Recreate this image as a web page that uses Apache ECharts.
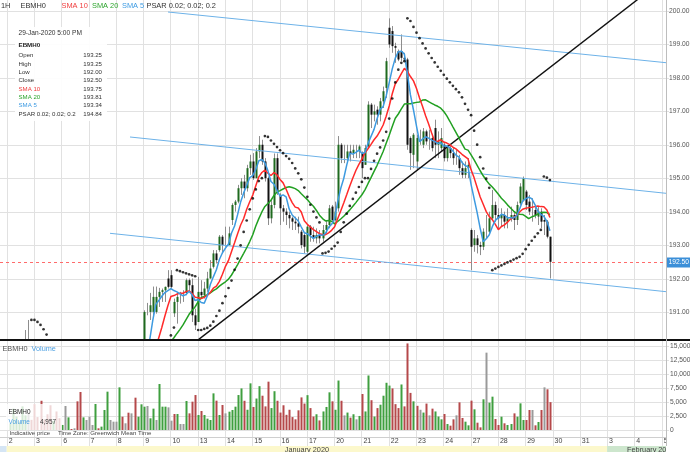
<!DOCTYPE html>
<html><head><meta charset="utf-8">
<script src="https://cdn.jsdelivr.net/npm/echarts@6/dist/echarts.min.js"></script>
<style>html,body{margin:0;padding:0;background:#fff;}#c{width:690px;height:452px;}</style>
</head><body><div id="c"></div>
<script>
// ---------------- DATA ----------------
const dayLabels = ['2','3','6','7','8','9','10','13','14','15','16','17','20','21','22','23','24','27','28','29','30','31','3','4','5'];
const monthNames = ['January 2020', 'February 2020'];
const monthStartDay = [0, 22];
const priceTicks = [191, 192, 193, 194, 195, 196, 197, 198, 199, 200];
const volTicks = [0, 2500, 5000, 7500, 10000, 12500, 15000];
const barsPerDay = 9;

// hourly candles [open, high, low, close], Jan 2 .. Jan 29 (9 bars per day)
const ohlc = [
// Jan 2
[189.80,189.95,189.70,189.90],[189.90,190.05,189.80,189.95],[189.95,190.05,189.85,190.00],[190.00,190.10,189.90,190.05],[190.05,190.15,189.95,190.10],[190.10,190.46,190.00,190.15],[190.15,190.76,190.10,190.15],[190.15,190.15,189.70,189.80],[189.80,189.90,189.30,189.50],
// Jan 3
[189.50,189.60,189.20,189.40],[189.40,189.50,189.00,189.20],[189.20,189.30,188.90,189.00],[189.00,189.20,188.80,188.90],[188.90,189.00,188.60,188.70],[188.70,188.90,188.60,188.80],[188.80,188.85,188.50,188.60],[188.60,188.70,188.40,188.50],[188.50,188.70,188.45,188.60],
// Jan 6
[188.60,188.70,188.40,188.60],[188.60,188.90,188.50,188.80],[188.80,188.85,188.60,188.70],[188.70,188.80,188.60,188.70],[188.70,188.75,188.40,188.50],[188.50,188.55,188.20,188.30],[188.30,188.50,188.25,188.40],[188.40,188.50,188.30,188.40],[188.40,188.50,188.30,188.40],
// Jan 7
[188.40,188.50,188.30,188.40],[188.40,188.70,188.35,188.60],[188.60,188.65,188.40,188.50],[188.50,188.70,188.45,188.60],[188.60,188.80,188.55,188.75],[188.75,189.00,188.70,188.90],[188.90,189.00,188.80,188.90],[188.90,189.00,188.80,188.90],[188.90,189.00,188.80,188.90],
// Jan 8
[188.90,189.10,188.85,189.00],[189.00,189.05,188.70,188.80],[188.80,188.90,188.70,188.80],[188.80,188.85,188.50,188.60],[188.60,188.70,188.50,188.60],[188.60,188.65,188.30,188.40],[188.40,188.70,188.35,188.60],[188.60,189.10,188.55,189.00],[189.20,191.05,189.10,191.00],
// Jan 9
[191.00,191.27,190.90,191.00],[191.00,191.57,190.76,191.20],[191.00,191.76,190.86,191.45],[191.00,191.76,190.95,191.45],[191.45,191.72,191.15,191.60],[191.60,191.70,191.30,191.65],[191.65,191.76,191.30,191.75],[192.00,192.25,191.70,191.75],[192.10,192.25,191.70,191.75],
// Jan 10
[190.96,191.40,190.85,191.30],[191.30,191.57,190.65,191.45],[191.45,191.60,191.25,191.45],[191.45,191.65,191.30,191.45],[191.57,192.00,191.50,191.95],[191.95,192.00,191.60,191.80],[191.80,192.00,190.70,190.90],[190.90,191.10,190.46,190.60],[190.70,192.05,190.70,191.60],
// Jan 13
[191.60,191.95,191.40,191.50],[191.50,191.90,191.40,191.70],[191.70,192.20,191.60,192.00],[192.00,192.55,192.00,192.30],[192.35,192.85,192.30,192.75],[192.75,192.85,192.45,192.55],[192.85,193.30,192.80,193.25],[193.25,193.30,192.75,193.00],[193.00,193.55,192.95,193.00],
// Jan 14
[193.00,193.55,193.00,193.35],[193.75,194.25,193.60,194.20],[194.20,194.35,194.00,194.30],[194.30,194.80,194.25,194.70],[194.70,195.00,194.50,194.90],[194.90,195.10,194.40,194.70],[194.70,195.40,194.60,195.30],[195.30,195.70,195.10,195.50],[195.50,195.75,194.95,195.00],
// Jan 15
[195.00,195.90,195.00,195.80],[195.80,196.26,195.60,196.00],[196.00,196.15,195.40,195.50],[195.50,195.60,194.90,195.00],[195.00,195.05,193.60,193.80],[193.80,194.35,193.65,194.20],[194.20,195.74,194.10,195.60],[195.60,195.74,194.50,194.60],[194.50,194.55,193.60,194.10],
// Jan 16
[194.10,194.20,193.70,194.00],[194.00,194.10,193.60,193.90],[193.90,194.00,193.50,193.80],[193.80,193.85,193.45,193.70],[193.70,193.85,193.45,193.65],[193.65,193.85,193.35,193.55],[193.40,193.45,192.90,193.00],[193.30,193.35,192.75,192.95],[192.80,193.60,192.75,193.55],
// Jan 17
[193.55,193.60,193.10,193.30],[193.30,193.55,193.10,193.20],[193.20,193.50,193.05,193.30],[193.30,193.45,193.05,193.20],[193.20,193.60,193.10,193.45],[193.45,193.75,193.35,193.60],[193.60,194.20,193.50,194.10],[194.15,194.20,193.70,193.75],[193.75,194.30,193.70,194.00],
// Jan 20
[194.10,196.26,194.00,196.00],[196.00,196.05,195.45,195.60],[195.60,196.00,195.45,195.60],[195.60,196.00,195.50,195.80],[195.80,196.00,195.50,195.75],[195.75,196.00,195.60,195.85],[195.85,196.00,195.60,195.85],[195.80,196.00,195.60,195.95],[195.75,195.80,195.00,195.30],
// Jan 21
[195.40,196.00,195.40,195.90],[195.95,197.30,195.90,197.20],[197.20,197.25,196.50,196.90],[196.90,197.20,196.70,197.00],[197.05,197.15,196.60,196.90],[196.90,197.40,196.70,197.30],[197.30,197.74,197.10,197.60],[197.70,198.60,197.40,198.50],[199.50,199.78,198.90,199.00],
// Jan 22
[199.40,199.55,198.75,198.95],[198.95,199.05,198.45,198.90],[198.80,198.85,198.50,198.55],[198.80,199.30,198.50,198.60],[198.60,198.75,198.50,198.55],[198.55,198.60,195.85,196.00],[196.20,196.25,195.25,195.75],[195.70,196.35,195.30,196.30],[195.50,196.30,195.25,196.20],
// Jan 23
[196.20,196.45,196.00,196.20],[196.00,196.50,195.90,196.40],[196.40,196.45,196.00,196.10],[196.10,196.45,195.85,196.10],[196.20,196.30,195.80,195.90],[196.50,196.75,195.60,196.00],[196.00,196.40,195.60,196.10],[195.90,196.50,195.80,196.20],[196.00,196.05,195.50,195.60],
// Jan 24
[195.60,196.00,195.50,195.90],[195.90,196.00,195.60,195.75],[195.75,195.90,195.40,195.60],[195.60,195.85,195.40,195.60],[195.60,195.70,195.10,195.30],[195.30,195.50,195.00,195.10],[195.10,195.50,195.00,195.30],[195.30,195.60,195.00,195.40],[193.45,193.50,192.25,192.95],
// Jan 27
[193.00,193.45,192.80,193.20],[193.20,193.30,192.75,193.00],[193.00,193.10,192.70,192.95],[192.95,193.50,192.85,193.40],[193.40,193.90,193.20,193.40],[193.40,194.00,193.30,193.80],[193.80,194.65,193.75,194.20],[194.20,194.30,193.70,193.90],[193.90,194.10,193.50,193.80],
// Jan 28
[193.80,194.10,193.55,193.90],[193.90,194.00,193.50,193.70],[193.70,194.10,193.50,193.80],[193.80,194.15,193.70,193.90],[193.90,194.00,193.45,193.75],[193.75,194.30,193.60,194.20],[194.25,194.85,194.20,194.75],[194.35,195.05,194.30,195.00],[194.60,194.65,194.05,194.20],
// Jan 29
[194.30,194.50,193.90,194.00],[194.00,194.40,193.70,194.00],[194.05,194.20,193.80,193.90],[193.85,194.15,193.60,194.00],[194.00,194.10,193.50,193.70],[193.75,193.90,193.30,193.70],[193.70,193.75,193.20,193.25],[193.25,193.25,192.00,192.50]
];

const volumes = [
1200,3800,2400,1500,4200,2600,3100,1800,4600,
2300,5200,1900,2800,4400,1600,3300,2100,900,
4270,2250,180,300,5100,6760,2250,1780,2370,
890,4625,300,600,3560,6820,1780,1480,1480,
7590,2370,1190,3080,2960,5750,2370,4570,4150,
4270,2080,3800,1780,8180,4150,4150,4030,1660,
2850,2850,1070,1070,5160,2960,5040,6220,2670,
3380,2670,2020,1780,6520,5220,2670,4450,2960,
3260,3560,4150,6220,7400,5200,3600,8300,4100,
5600,7800,6100,4200,8600,3900,6900,5200,3100,
4400,2700,3600,2300,1900,3500,5800,4700,6200,
3900,2400,2800,1700,3300,4100,6700,5100,3600,
8800,5200,2600,3100,2200,2800,1900,2500,6400,
3300,9700,5300,2400,3900,4500,6100,8400,7900,
7400,4600,3900,8100,4200,15400,6600,5100,4300,
3600,3100,4700,2600,3800,3300,2400,1900,2850,
1070,770,1900,2610,4920,2135,1480,830,5220,
3680,1300,470,5460,13760,4860,5930,1960,890,
2370,1190,890,1070,2960,2370,4740,1780,1780,
3560,3560,830,1420,3560,7590,7240,4957
];

// drawn trend lines: [dayPosition, price]
const channelTop = [[5.911, 199.970], [24.159, 198.454]];
const channelMid = [[4.518, 196.232], [24.159, 194.548]];
const channelLow = [[3.785, 193.352], [24.159, 191.606]];
const trendUp    = [[6.980, 190.142], [23.200, 200.395]];

const tooltipTitle = '29-Jan-2020 5:00 PM';
const tooltipRows = [['Open','193.25'],['High','193.25'],['Low','192.00'],['Close','192.50'],['SMA 10','193.75'],['SMA 20','193.81'],['SMA 5','193.34'],['PSAR 0.02; 0.02; 0.2','194.84']];
const legendVolume = '4,957';

// ---------------- LAYOUT / STYLE ----------------
const FONT = '"Liberation Sans", Arial, sans-serif';
const f = s => s + 'px ' + FONT;
const PLOT_W = 666;
const X_MIN = -0.2455, X_MAX = 24.159;
const P_MIN = 190.161, P_MAX = 200.329;
const V_MIN = -1245, V_MAX = 15833;
const GRID_C = '#e1e1e1';
const C_SMA10 = '#ff2a2a', C_SMA20 = '#22a022', C_SMA5 = '#3d9ae0';
const C_UP = '#3f9f3f', C_DN = '#b5484a', C_FLAT = '#9a9a9a';

const barX = i => Math.floor(i / barsPerDay) + ((i % barsPerDay) + 1.15) / barsPerDay;
const closes = ohlc.map(r => r[3]);
const highs = ohlc.map(r => r[1]);
const lows = ohlc.map(r => r[2]);

function sma(n) {
  const out = [];
  for (let i = n - 1; i < closes.length; i++) {
    let s = 0; for (let k = i - n + 1; k <= i; k++) s += closes[k];
    out.push([barX(i), s / n]);
  }
  return out;
}
function psar(start, inc, max) {
  const out = [];
  let up = closes[1] >= closes[0];
  let sar = up ? lows[0] : highs[0], ep = up ? highs[0] : lows[0], af = start;
  for (let i = 1; i < highs.length; i++) {
    let s = sar + af * (ep - sar);
    const j = i > 1 ? i - 2 : i - 1;
    if (up) {
      s = Math.min(s, lows[i - 1], lows[j]);
      if (lows[i] < s) { up = false; s = ep; ep = lows[i]; af = start; }
      else if (highs[i] > ep) { ep = highs[i]; af = Math.min(af + inc, max); }
    } else {
      s = Math.max(s, highs[i - 1], highs[j]);
      if (highs[i] > s) { up = true; s = ep; ep = highs[i]; af = start; }
      else if (lows[i] < ep) { ep = lows[i]; af = Math.min(af + inc, max); }
    }
    sar = s; out.push([barX(i), s]);
  }
  return out;
}

const candleData = ohlc.map((r, i) => [barX(i), r[0], r[1], r[2], r[3]]);
const volData = volumes.map((v, i) => {
  const prev = i > 0 ? closes[i - 1] : ohlc[i][0];
  const dir = closes[i] > prev ? 1 : (closes[i] < prev ? -1 : 0);
  return [barX(i), v, dir];
});
const lastClose = closes[closes.length - 1];

const chart = echarts.init(document.getElementById('c'), null, { renderer: 'canvas' });

const axisX = gi => ({ type: 'value', gridIndex: gi, min: X_MIN, max: X_MAX, show: false });

const monthBands = [[X_MIN, monthStartDay[0], -1]];
monthStartDay.forEach((s, k) => monthBands.push([s, k + 1 < monthStartDay.length ? monthStartDay[k + 1] : X_MAX, k]));
const bandColors = ['#d5e5f4', '#fcf8cc', '#cde6cd'];
const rowColors = { 'SMA 10': '#f03c3c', 'SMA 20': '#2ea52e', 'SMA 5': '#3e9be2' };

const option = {
  animation: false,
  grid: [
    { left: 0, top: 0, width: PLOT_W, height: 340 },
    { left: 0, top: 341, width: PLOT_W, height: 96 },
    { left: 0, top: 437, width: PLOT_W, height: 15 }
  ],
  xAxis: [axisX(0), axisX(1), axisX(2)],
  yAxis: [
    { type: 'value', gridIndex: 0, min: P_MIN, max: P_MAX, show: false },
    { type: 'value', gridIndex: 1, min: V_MIN, max: V_MAX, show: false },
    { type: 'value', gridIndex: 2, min: 0, max: 1, show: false }
  ],
  series: [
    // vertical day grid lines
    { type: 'custom', xAxisIndex: 0, yAxisIndex: 0, silent: true, z: 1, clip: false,
      data: dayLabels.map((l, d) => [d, P_MAX]), encode: { x: 0, y: 1 },
      renderItem: (p, api) => {
        const x = Math.round(api.coord([api.value(0), P_MAX])[0]) + 0.5;
        return { type: 'line', shape: { x1: x, y1: 0, x2: x, y2: 446 }, style: { stroke: GRID_C, lineWidth: 1 } };
      } },
    // price grid lines + labels
    { type: 'custom', xAxisIndex: 0, yAxisIndex: 0, silent: true, z: 1, clip: false,
      data: priceTicks.map(t => [X_MIN, t]), encode: { x: 0, y: 1 },
      renderItem: (p, api) => {
        const t = api.value(1);
        const a = api.coord([X_MIN, t]), b = api.coord([X_MAX, t]);
        const y = Math.round(a[1]) + 0.5;
        return { type: 'group', children: [
          { type: 'line', shape: { x1: a[0], y1: y, x2: b[0] + 3, y2: y }, style: { stroke: GRID_C, lineWidth: 1 } },
          { type: 'text', x: b[0] + 3, y: y, style: { text: t.toFixed(2), fill: '#555', font: f(6.7), verticalAlign: 'middle' } }
        ] };
      } },
    // volume grid lines + labels
    { type: 'custom', xAxisIndex: 1, yAxisIndex: 1, silent: true, z: 1, clip: false,
      data: volTicks.map(t => [X_MIN, t]), encode: { x: 0, y: 1 },
      renderItem: (p, api) => {
        const t = api.value(1);
        const a = api.coord([X_MIN, t]), b = api.coord([X_MAX, t]);
        const y = Math.round(a[1]) + 0.5;
        return { type: 'group', children: [
          { type: 'line', shape: { x1: a[0], y1: y, x2: b[0] + 3, y2: y }, style: { stroke: GRID_C, lineWidth: 1 } },
          { type: 'text', x: b[0] + 4, y: y, style: { text: t.toLocaleString('en-US'), fill: '#555', font: f(6.7), verticalAlign: 'middle' } }
        ] };
      } },
    // month bands
    { type: 'custom', xAxisIndex: 2, yAxisIndex: 2, silent: true, z: 1, clip: true,
      data: monthBands, encode: { x: [0, 1] },
      renderItem: (p, api) => {
        const a = api.coord([api.value(0), 0]), b = api.coord([api.value(1), 0]);
        const k = api.value(2);
        const children = [{ type: 'rect', shape: { x: a[0], y: 446, width: b[0] - a[0], height: 8 }, style: { fill: bandColors[k + 1] } }];
        if (k >= 0) {
          const x = k === 0 ? (a[0] + b[0]) / 2 : a[0] + 20;
          children.push({ type: 'text', x: x, y: 449.5, style: { text: monthNames[k], fill: '#444', font: f(7.3), align: k === 0 ? 'center' : 'left', verticalAlign: 'middle' } });
        }
        return { type: 'group', children };
      } },
    // day labels
    { type: 'custom', xAxisIndex: 2, yAxisIndex: 2, silent: true, z: 2, clip: true,
      data: dayLabels.map((l, d) => [d, 1]), encode: { x: 0, y: 1 },
      renderItem: (p, api) => {
        const c = api.coord([api.value(0), 1]);
        return { type: 'text', x: c[0] + 2, y: c[1] + 4.5, style: { text: dayLabels[p.dataIndex], fill: '#444', font: f(7), verticalAlign: 'middle' } };
      } },
    // last price dashed line + label
    { type: 'custom', xAxisIndex: 0, yAxisIndex: 0, silent: true, z: 3, clip: false,
      data: [[X_MIN, lastClose]], encode: { x: 0, y: 1 },
      renderItem: (p, api) => {
        const v = api.value(1);
        const a = api.coord([X_MIN, v]), b = api.coord([X_MAX, v]);
        const y = Math.round(a[1]) + 0.5;
        return { type: 'group', children: [
          { type: 'line', shape: { x1: a[0], y1: y, x2: b[0], y2: y }, style: { stroke: '#ff6b6b', lineWidth: 1, lineDash: [3, 3] } },
          { type: 'rect', shape: { x: b[0] + 1, y: y - 5, width: 23, height: 10 }, style: { fill: '#3b8fd8' } },
          { type: 'text', x: b[0] + 2.5, y: y, style: { text: v.toFixed(2), fill: '#fff', font: f(6.7), verticalAlign: 'middle' } }
        ] };
      } },
    // candles
    { type: 'custom', name: 'EBMH0', xAxisIndex: 0, yAxisIndex: 0, z: 4, clip: true,
      data: candleData, encode: { x: 0, y: [1, 2, 3, 4] },
      renderItem: (p, api) => {
        const x = api.value(0), o = api.value(1), h = api.value(2), l = api.value(3), c = api.value(4);
        const pO = api.coord([x, o]), pC = api.coord([x, c]), pH = api.coord([x, h]), pL = api.coord([x, l]);
        const px = Math.round(pO[0]);
        const children = [{ type: 'line', shape: { x1: px + 0.5, y1: pH[1], x2: px + 0.5, y2: pL[1] }, style: { stroke: '#8d8d8d', lineWidth: 1 } }];
        const top = Math.min(pO[1], pC[1]), bot = Math.max(pO[1], pC[1]);
        if (bot - top > 0.6) children.push({ type: 'rect', shape: { x: px - 0.5, y: top, width: 2, height: bot - top }, style: { fill: c > o ? '#1f6a1f' : '#111' } });
        return { type: 'group', children };
      } },
    // trend lines
    ...[channelTop, channelMid, channelLow].map(d => ({ type: 'line', xAxisIndex: 0, yAxisIndex: 0, data: d, showSymbol: false, silent: true, z: 5,
      lineStyle: { color: '#6db2e8', width: 1 } })),
    { type: 'line', xAxisIndex: 0, yAxisIndex: 0, data: trendUp, showSymbol: false, silent: true, z: 5, lineStyle: { color: '#111', width: 1.4 } },
    // SMAs
    { type: 'line', name: 'SMA 20', xAxisIndex: 0, yAxisIndex: 0, data: sma(20), showSymbol: false, z: 6, lineStyle: { color: C_SMA20, width: 1.5 } },
    { type: 'line', name: 'SMA 10', xAxisIndex: 0, yAxisIndex: 0, data: sma(10), showSymbol: false, z: 6, lineStyle: { color: C_SMA10, width: 1.5 } },
    { type: 'line', name: 'SMA 5', xAxisIndex: 0, yAxisIndex: 0, data: sma(5), showSymbol: false, z: 6, lineStyle: { color: C_SMA5, width: 1.5 } },
    // PSAR
    { type: 'scatter', name: 'PSAR', xAxisIndex: 0, yAxisIndex: 0, data: psar(0.02, 0.02, 0.2), symbol: 'circle', symbolSize: 2.7, z: 7,
      itemStyle: { color: '#000' } },
    // volume bars
    { type: 'custom', name: 'Volume', xAxisIndex: 1, yAxisIndex: 1, z: 4, clip: true,
      data: volData, encode: { x: 0, y: 1 },
      renderItem: (p, api) => {
        const x = api.value(0), v = api.value(1), dir = api.value(2);
        const a = api.coord([x, 0]), b = api.coord([x, v]);
        const px = Math.round(a[0]);
        return { type: 'rect', shape: { x: px - 0.5, y: b[1], width: 2, height: a[1] - b[1] },
          style: { fill: dir > 0 ? C_UP : (dir < 0 ? C_DN : C_FLAT) } };
      } }
  ],
  graphic: [
    { type: 'rect', z: 50, shape: { x: 0, y: 339, width: 690, height: 2 }, style: { fill: '#111' } },
    { type: 'line', z: 50, shape: { x1: 666.5, y1: 0, x2: 666.5, y2: 446 }, style: { stroke: '#bdbdbd', lineWidth: 1 } },
    { type: 'line', z: 50, shape: { x1: 0, y1: 437.5, x2: 666, y2: 437.5 }, style: { stroke: '#cfcfcf', lineWidth: 1 } },
    // top legend
    { type: 'text', z: 60, x: 1, y: 6, style: { text: '1H', fill: '#333', font: f(7.4), verticalAlign: 'middle' } },
    { type: 'text', z: 60, x: 20.5, y: 6, style: { text: 'EBMH0', fill: '#333', font: f(7.4), verticalAlign: 'middle' } },
    { type: 'text', z: 60, x: 61.5, y: 6, style: { text: 'SMA 10', fill: '#f04040', font: f(7.4), verticalAlign: 'middle' } },
    { type: 'text', z: 60, x: 92, y: 6, style: { text: 'SMA 20', fill: '#2ea52e', font: f(7.4), verticalAlign: 'middle' } },
    { type: 'text', z: 60, x: 122, y: 6, style: { text: 'SMA 5', fill: '#3e9be2', font: f(7.4), verticalAlign: 'middle' } },
    { type: 'text', z: 60, x: 146.5, y: 6, style: { text: 'PSAR 0.02; 0.02; 0.2', fill: '#333', font: f(7.4), verticalAlign: 'middle' } },
    // tooltip box
    { type: 'rect', z: 60, shape: { x: 15, y: 27, width: 92, height: 94 }, style: { fill: 'rgba(255,255,255,0.93)' } },
    { type: 'text', z: 61, x: 18.5, y: 33.5, style: { text: tooltipTitle, fill: '#333', font: f(6.6), verticalAlign: 'middle' } },
    { type: 'text', z: 61, x: 18.5, y: 45.5, style: { text: 'EBMH0', fill: '#222', font: 'bold ' + f(6.2), verticalAlign: 'middle' } },
    ...tooltipRows.flatMap((r, k) => {
      const y = 55.8 + k * 8.3;
      return [
        { type: 'text', z: 61, x: 18.5, y: y, style: { text: r[0], fill: rowColors[r[0]] || '#333', font: f(6.1), verticalAlign: 'middle' } },
        { type: 'text', z: 61, x: 102, y: y, style: { text: r[1], fill: '#333', font: f(6.1), align: 'right', verticalAlign: 'middle' } }
      ];
    }),
    // volume panel title
    { type: 'text', z: 60, x: 2.5, y: 348.5, style: { text: 'EBMH0', fill: '#555', font: f(7.3), verticalAlign: 'middle' } },
    { type: 'text', z: 60, x: 31.5, y: 348.5, style: { text: 'Volume', fill: '#4a9fe2', font: f(7.3), verticalAlign: 'middle' } },
    // bottom-left legend
    { type: 'rect', z: 60, shape: { x: 6, y: 404, width: 56, height: 26 }, style: { fill: 'rgba(255,255,255,0.78)' } },
    { type: 'text', z: 61, x: 8.5, y: 412.7, style: { text: 'EBMH0', fill: '#222', font: f(6.4), verticalAlign: 'middle' } },
    { type: 'text', z: 61, x: 8.5, y: 422, style: { text: 'Volume', fill: '#4a9fe2', font: f(6.4), verticalAlign: 'middle' } },
    { type: 'text', z: 61, x: 56, y: 422, style: { text: legendVolume, fill: '#333', font: f(6.4), align: 'right', verticalAlign: 'middle' } },
    { type: 'text', z: 61, x: 9.5, y: 433, style: { text: 'Indicative price', fill: '#444', font: f(6.1), verticalAlign: 'middle' } },
    { type: 'text', z: 61, x: 58, y: 433, style: { text: 'Time Zone: Greenwich Mean Time', fill: '#444', font: f(6.1), verticalAlign: 'middle' } }
  ]
};
chart.setOption(option);
</script>
</body></html>
